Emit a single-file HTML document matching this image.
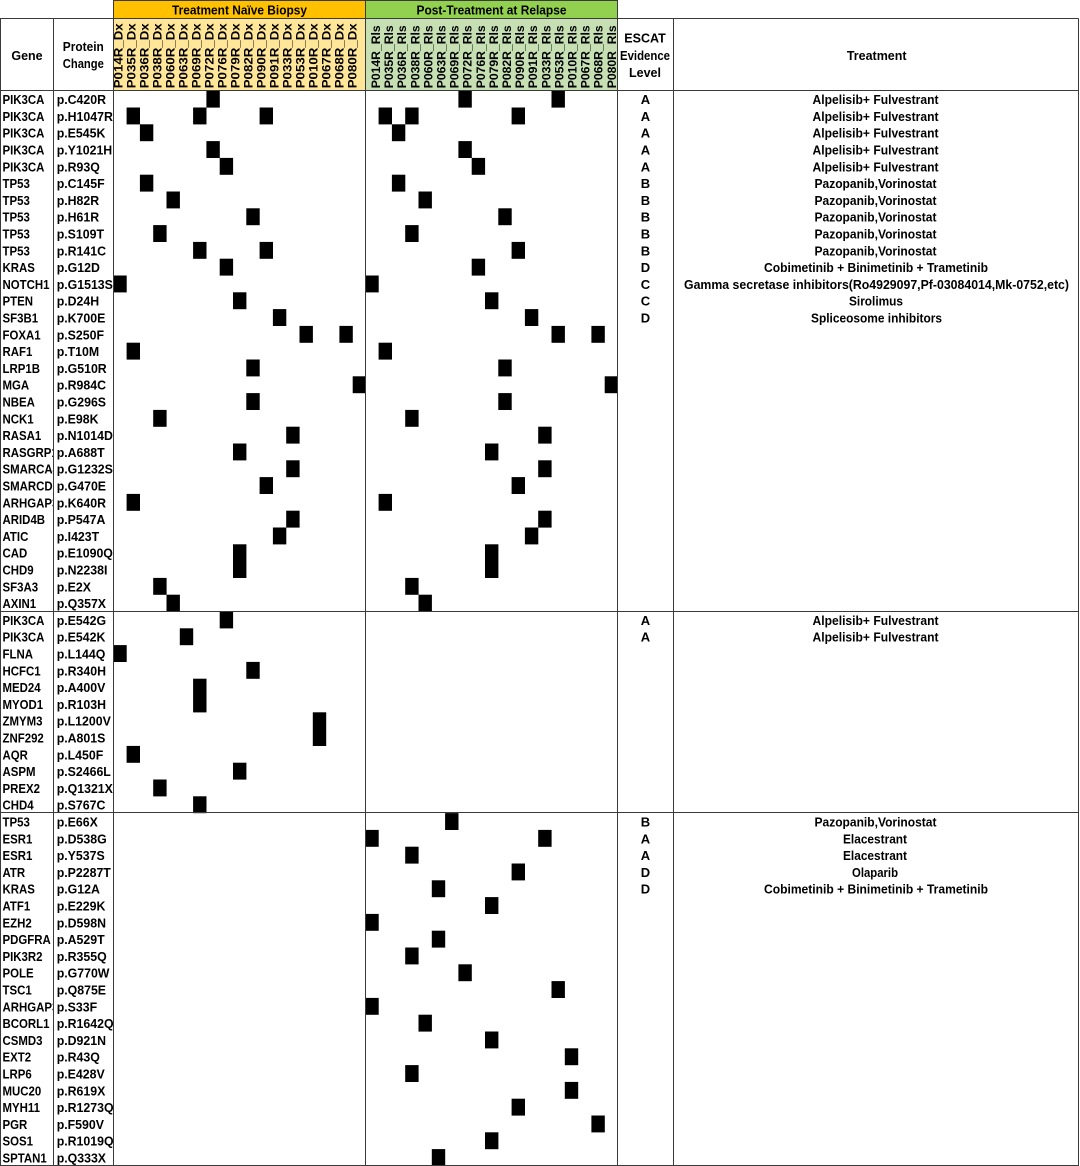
<!DOCTYPE html>
<html>
<head>
<meta charset="utf-8">
<style>
html,body{margin:0;padding:0;background:#fff;}
svg{display:block;}
text{font-family:"Liberation Sans",Arial,sans-serif;font-weight:bold;fill:#000;}
</style>
</head>
<body>
<svg width="1080" height="1166" viewBox="0 0 1080 1166" xmlns="http://www.w3.org/2000/svg">
<defs>
<clipPath id="cg"><rect x="0" y="90" width="53" height="1076"/></clipPath>
<clipPath id="cp"><rect x="54" y="90" width="59" height="1076"/></clipPath>
</defs>
<rect x="0" y="0" width="1080" height="1166" fill="#fff"/>
<!-- top bands -->
<rect x="113.5" y="0.5" width="252" height="18" fill="#FFC000"/>
<rect x="365.5" y="0.5" width="252" height="18" fill="#92D050"/>
<rect x="113.5" y="18.5" width="252" height="72" fill="#FFE699"/>
<rect x="365.5" y="18.5" width="252" height="72" fill="#C6E0B4"/>
<text x="239.5" y="14.5" font-size="12.5" text-anchor="middle" textLength="135" lengthAdjust="spacingAndGlyphs">Treatment Naïve Biopsy</text>
<text x="491.5" y="14.5" font-size="12.5" text-anchor="middle" textLength="150" lengthAdjust="spacingAndGlyphs">Post-Treatment at Relapse</text>

<!-- header labels -->
<text x="27" y="60" font-size="12.5" text-anchor="middle">Gene</text>
<text x="83.3" y="51" font-size="12.5" text-anchor="middle" textLength="41" lengthAdjust="spacingAndGlyphs">Protein</text>
<text x="83.3" y="68" font-size="12.5" text-anchor="middle" textLength="41" lengthAdjust="spacingAndGlyphs">Change</text>
<text x="645" y="42.7" font-size="12.5" text-anchor="middle">ESCAT</text>
<text x="645" y="60" font-size="12.5" text-anchor="middle" textLength="50" lengthAdjust="spacingAndGlyphs">Evidence</text>
<text x="645" y="77" font-size="12.5" text-anchor="middle">Level</text>
<text x="876.7" y="60" font-size="12.5" text-anchor="middle">Treatment</text>

<!-- rotated sample labels -->
<g font-size="11.5">
<text transform="translate(122.7,88.3) rotate(-90)" textLength="65" lengthAdjust="spacingAndGlyphs">P014R_Dx</text>
<text transform="translate(135.7,88.3) rotate(-90)" textLength="65" lengthAdjust="spacingAndGlyphs">P035R_Dx</text>
<text transform="translate(148.7,88.3) rotate(-90)" textLength="65" lengthAdjust="spacingAndGlyphs">P036R_Dx</text>
<text transform="translate(161.7,88.3) rotate(-90)" textLength="65" lengthAdjust="spacingAndGlyphs">P038R_Dx</text>
<text transform="translate(174.7,88.3) rotate(-90)" textLength="65" lengthAdjust="spacingAndGlyphs">P060R_Dx</text>
<text transform="translate(187.7,88.3) rotate(-90)" textLength="65" lengthAdjust="spacingAndGlyphs">P063R_Dx</text>
<text transform="translate(200.7,88.3) rotate(-90)" textLength="65" lengthAdjust="spacingAndGlyphs">P069R_Dx</text>
<text transform="translate(213.7,88.3) rotate(-90)" textLength="65" lengthAdjust="spacingAndGlyphs">P072R_Dx</text>
<text transform="translate(226.7,88.3) rotate(-90)" textLength="65" lengthAdjust="spacingAndGlyphs">P076R_Dx</text>
<text transform="translate(239.7,88.3) rotate(-90)" textLength="65" lengthAdjust="spacingAndGlyphs">P079R_Dx</text>
<text transform="translate(252.7,88.3) rotate(-90)" textLength="65" lengthAdjust="spacingAndGlyphs">P082R_Dx</text>
<text transform="translate(265.7,88.3) rotate(-90)" textLength="65" lengthAdjust="spacingAndGlyphs">P090R_Dx</text>
<text transform="translate(278.7,88.3) rotate(-90)" textLength="65" lengthAdjust="spacingAndGlyphs">P091R_Dx</text>
<text transform="translate(291.7,88.3) rotate(-90)" textLength="65" lengthAdjust="spacingAndGlyphs">P033R_Dx</text>
<text transform="translate(304.7,88.3) rotate(-90)" textLength="65" lengthAdjust="spacingAndGlyphs">P053R_Dx</text>
<text transform="translate(317.7,88.3) rotate(-90)" textLength="65" lengthAdjust="spacingAndGlyphs">P010R_Dx</text>
<text transform="translate(330.7,88.3) rotate(-90)" textLength="65" lengthAdjust="spacingAndGlyphs">P067R_Dx</text>
<text transform="translate(343.7,88.3) rotate(-90)" textLength="65" lengthAdjust="spacingAndGlyphs">P068R_Dx</text>
<text transform="translate(356.7,88.3) rotate(-90)" textLength="65" lengthAdjust="spacingAndGlyphs">P080R_Dx</text>

<text transform="translate(380,88.3) rotate(-90)" textLength="63" lengthAdjust="spacingAndGlyphs">P014R_Rls</text>
<text transform="translate(393.1,88.3) rotate(-90)" textLength="63" lengthAdjust="spacingAndGlyphs">P035R_Rls</text>
<text transform="translate(406.2,88.3) rotate(-90)" textLength="63" lengthAdjust="spacingAndGlyphs">P036R_Rls</text>
<text transform="translate(419.3,88.3) rotate(-90)" textLength="63" lengthAdjust="spacingAndGlyphs">P038R_Rls</text>
<text transform="translate(432.4,88.3) rotate(-90)" textLength="63" lengthAdjust="spacingAndGlyphs">P060R_Rls</text>
<text transform="translate(445.5,88.3) rotate(-90)" textLength="63" lengthAdjust="spacingAndGlyphs">P063R_Rls</text>
<text transform="translate(458.6,88.3) rotate(-90)" textLength="63" lengthAdjust="spacingAndGlyphs">P069R_Rls</text>
<text transform="translate(471.7,88.3) rotate(-90)" textLength="63" lengthAdjust="spacingAndGlyphs">P072R_Rls</text>
<text transform="translate(484.8,88.3) rotate(-90)" textLength="63" lengthAdjust="spacingAndGlyphs">P076R_Rls</text>
<text transform="translate(497.9,88.3) rotate(-90)" textLength="63" lengthAdjust="spacingAndGlyphs">P079R_Rls</text>
<text transform="translate(511,88.3) rotate(-90)" textLength="63" lengthAdjust="spacingAndGlyphs">P082R_Rls</text>
<text transform="translate(524.1,88.3) rotate(-90)" textLength="63" lengthAdjust="spacingAndGlyphs">P090R_Rls</text>
<text transform="translate(537.2,88.3) rotate(-90)" textLength="63" lengthAdjust="spacingAndGlyphs">P091R_Rls</text>
<text transform="translate(550.3,88.3) rotate(-90)" textLength="63" lengthAdjust="spacingAndGlyphs">P033R_Rls</text>
<text transform="translate(563.4,88.3) rotate(-90)" textLength="63" lengthAdjust="spacingAndGlyphs">P053R_Rls</text>
<text transform="translate(576.5,88.3) rotate(-90)" textLength="63" lengthAdjust="spacingAndGlyphs">P010R_Rls</text>
<text transform="translate(589.6,88.3) rotate(-90)" textLength="63" lengthAdjust="spacingAndGlyphs">P067R_Rls</text>
<text transform="translate(602.7,88.3) rotate(-90)" textLength="63" lengthAdjust="spacingAndGlyphs">P068R_Rls</text>
<text transform="translate(615.8,88.3) rotate(-90)" textLength="63" lengthAdjust="spacingAndGlyphs">P080R_Rls</text>
</g>

<!-- squares -->
<g fill="#000">
<rect x="206.4" y="90.7" width="13.4" height="16.9"/>
<rect x="126.6" y="107.5" width="13.4" height="16.9"/>
<rect x="193.1" y="107.5" width="13.4" height="16.9"/>
<rect x="259.6" y="107.5" width="13.4" height="16.9"/>
<rect x="139.9" y="124.3" width="13.4" height="16.9"/>
<rect x="206.4" y="141.1" width="13.4" height="16.9"/>
<rect x="219.7" y="157.9" width="13.4" height="16.9"/>
<rect x="139.9" y="174.7" width="13.4" height="16.9"/>
<rect x="166.5" y="191.5" width="13.4" height="16.9"/>
<rect x="246.3" y="208.3" width="13.4" height="16.9"/>
<rect x="153.2" y="225.1" width="13.4" height="16.9"/>
<rect x="193.1" y="241.9" width="13.4" height="16.9"/>
<rect x="259.6" y="241.9" width="13.4" height="16.9"/>
<rect x="219.7" y="258.7" width="13.4" height="16.9"/>
<rect x="113.3" y="275.5" width="13.4" height="16.9"/>
<rect x="233.0" y="292.3" width="13.4" height="16.9"/>
<rect x="272.9" y="309.1" width="13.4" height="16.9"/>
<rect x="299.5" y="325.9" width="13.4" height="16.9"/>
<rect x="339.4" y="325.9" width="13.4" height="16.9"/>
<rect x="126.6" y="342.7" width="13.4" height="16.9"/>
<rect x="246.3" y="359.5" width="13.4" height="16.9"/>
<rect x="352.7" y="376.3" width="13.0" height="16.9"/>
<rect x="246.3" y="393.1" width="13.4" height="16.9"/>
<rect x="153.2" y="409.9" width="13.4" height="16.9"/>
<rect x="286.2" y="426.7" width="13.4" height="16.9"/>
<rect x="233.0" y="443.5" width="13.4" height="16.9"/>
<rect x="286.2" y="460.3" width="13.4" height="16.9"/>
<rect x="259.6" y="477.1" width="13.4" height="16.9"/>
<rect x="126.6" y="493.9" width="13.4" height="16.9"/>
<rect x="286.2" y="510.7" width="13.4" height="16.9"/>
<rect x="272.9" y="527.5" width="13.4" height="16.9"/>
<rect x="233.0" y="544.3" width="13.4" height="33.7"/>
<rect x="153.2" y="577.9" width="13.4" height="16.9"/>
<rect x="166.5" y="594.7" width="13.4" height="16.9"/>
<rect x="219.7" y="611.5" width="13.4" height="16.9"/>
<rect x="179.8" y="628.3" width="13.4" height="16.9"/>
<rect x="113.3" y="645.1" width="13.4" height="16.9"/>
<rect x="246.3" y="661.9" width="13.4" height="16.9"/>
<rect x="193.1" y="678.7" width="13.4" height="33.7"/>
<rect x="312.8" y="712.3" width="13.4" height="33.7"/>
<rect x="126.6" y="745.9" width="13.4" height="16.9"/>
<rect x="233.0" y="762.7" width="13.4" height="16.9"/>
<rect x="153.2" y="779.5" width="13.4" height="16.9"/>
<rect x="193.1" y="796.3" width="13.4" height="16.9"/>

<rect x="458.4" y="90.7" width="13.4" height="16.9"/>
<rect x="551.5" y="90.7" width="13.4" height="16.9"/>
<rect x="378.6" y="107.5" width="13.4" height="16.9"/>
<rect x="405.2" y="107.5" width="13.4" height="16.9"/>
<rect x="511.6" y="107.5" width="13.4" height="16.9"/>
<rect x="391.9" y="124.3" width="13.4" height="16.9"/>
<rect x="458.4" y="141.1" width="13.4" height="16.9"/>
<rect x="471.7" y="157.9" width="13.4" height="16.9"/>
<rect x="391.9" y="174.7" width="13.4" height="16.9"/>
<rect x="418.5" y="191.5" width="13.4" height="16.9"/>
<rect x="498.3" y="208.3" width="13.4" height="16.9"/>
<rect x="405.2" y="225.1" width="13.4" height="16.9"/>
<rect x="511.6" y="241.9" width="13.4" height="16.9"/>
<rect x="471.7" y="258.7" width="13.4" height="16.9"/>
<rect x="365.3" y="275.5" width="13.4" height="16.9"/>
<rect x="485.0" y="292.3" width="13.4" height="16.9"/>
<rect x="524.9" y="309.1" width="13.4" height="16.9"/>
<rect x="551.5" y="325.9" width="13.4" height="16.9"/>
<rect x="591.4" y="325.9" width="13.4" height="16.9"/>
<rect x="378.6" y="342.7" width="13.4" height="16.9"/>
<rect x="498.3" y="359.5" width="13.4" height="16.9"/>
<rect x="604.7" y="376.3" width="13.0" height="16.9"/>
<rect x="498.3" y="393.1" width="13.4" height="16.9"/>
<rect x="405.2" y="409.9" width="13.4" height="16.9"/>
<rect x="538.2" y="426.7" width="13.4" height="16.9"/>
<rect x="485.0" y="443.5" width="13.4" height="16.9"/>
<rect x="538.2" y="460.3" width="13.4" height="16.9"/>
<rect x="511.6" y="477.1" width="13.4" height="16.9"/>
<rect x="378.6" y="493.9" width="13.4" height="16.9"/>
<rect x="538.2" y="510.7" width="13.4" height="16.9"/>
<rect x="524.9" y="527.5" width="13.4" height="16.9"/>
<rect x="485.0" y="544.3" width="13.4" height="33.7"/>
<rect x="405.2" y="577.9" width="13.4" height="16.9"/>
<rect x="418.5" y="594.7" width="13.4" height="16.9"/>
<rect x="445.1" y="813.1" width="13.4" height="16.9"/>
<rect x="365.3" y="829.9" width="13.4" height="16.9"/>
<rect x="538.2" y="829.9" width="13.4" height="16.9"/>
<rect x="405.2" y="846.7" width="13.4" height="16.9"/>
<rect x="511.6" y="863.5" width="13.4" height="16.9"/>
<rect x="431.8" y="880.3" width="13.4" height="16.9"/>
<rect x="485.0" y="897.1" width="13.4" height="16.9"/>
<rect x="365.3" y="913.9" width="13.4" height="16.9"/>
<rect x="431.8" y="930.7" width="13.4" height="16.9"/>
<rect x="405.2" y="947.5" width="13.4" height="16.9"/>
<rect x="458.4" y="964.3" width="13.4" height="16.9"/>
<rect x="551.5" y="981.1" width="13.4" height="16.9"/>
<rect x="365.3" y="997.9" width="13.4" height="16.9"/>
<rect x="418.5" y="1014.7" width="13.4" height="16.9"/>
<rect x="485.0" y="1031.5" width="13.4" height="16.9"/>
<rect x="564.8" y="1048.3" width="13.4" height="16.9"/>
<rect x="405.2" y="1065.1" width="13.4" height="16.9"/>
<rect x="564.8" y="1081.9" width="13.4" height="16.9"/>
<rect x="511.6" y="1098.7" width="13.4" height="16.9"/>
<rect x="591.4" y="1115.5" width="13.4" height="16.9"/>
<rect x="485.0" y="1132.3" width="13.4" height="16.9"/>
<rect x="431.8" y="1149.1" width="13.4" height="16.9"/>
</g>

<!-- gene names -->
<g clip-path="url(#cg)">
<g transform="translate(2.5,0.6) scale(0.88,1)" font-size="13">
<text x="0" y="103.5">PIK3CA</text>
<text x="0" y="120.3">PIK3CA</text>
<text x="0" y="137.1">PIK3CA</text>
<text x="0" y="153.9">PIK3CA</text>
<text x="0" y="170.7">PIK3CA</text>
<text x="0" y="187.5">TP53</text>
<text x="0" y="204.3">TP53</text>
<text x="0" y="221.1">TP53</text>
<text x="0" y="237.9">TP53</text>
<text x="0" y="254.7">TP53</text>
<text x="0" y="271.5">KRAS</text>
<text x="0" y="288.3">NOTCH1</text>
<text x="0" y="305.1">PTEN</text>
<text x="0" y="321.9">SF3B1</text>
<text x="0" y="338.7">FOXA1</text>
<text x="0" y="355.5">RAF1</text>
<text x="0" y="372.3">LRP1B</text>
<text x="0" y="389.1">MGA</text>
<text x="0" y="405.9">NBEA</text>
<text x="0" y="422.7">NCK1</text>
<text x="0" y="439.5">RASA1</text>
<text x="0" y="456.3">RASGRP1</text>
<text x="0" y="473.1">SMARCA4</text>
<text x="0" y="489.9">SMARCD1</text>
<text x="0" y="506.7">ARHGAP35</text>
<text x="0" y="523.5">ARID4B</text>
<text x="0" y="540.3">ATIC</text>
<text x="0" y="557.1">CAD</text>
<text x="0" y="573.9">CHD9</text>
<text x="0" y="590.7">SF3A3</text>
<text x="0" y="607.5">AXIN1</text>
<text x="0" y="624.3">PIK3CA</text>
<text x="0" y="641.1">PIK3CA</text>
<text x="0" y="657.9">FLNA</text>
<text x="0" y="674.7">HCFC1</text>
<text x="0" y="691.5">MED24</text>
<text x="0" y="708.3">MYOD1</text>
<text x="0" y="725.1">ZMYM3</text>
<text x="0" y="741.9">ZNF292</text>
<text x="0" y="758.7">AQR</text>
<text x="0" y="775.5">ASPM</text>
<text x="0" y="792.3">PREX2</text>
<text x="0" y="809.1">CHD4</text>
<text x="0" y="825.9">TP53</text>
<text x="0" y="842.7">ESR1</text>
<text x="0" y="859.5">ESR1</text>
<text x="0" y="876.3">ATR</text>
<text x="0" y="893.1">KRAS</text>
<text x="0" y="909.9">ATF1</text>
<text x="0" y="926.7">EZH2</text>
<text x="0" y="943.5">PDGFRA</text>
<text x="0" y="960.3">PIK3R2</text>
<text x="0" y="977.1">POLE</text>
<text x="0" y="993.9">TSC1</text>
<text x="0" y="1010.7">ARHGAP35</text>
<text x="0" y="1027.5">BCORL1</text>
<text x="0" y="1044.3">CSMD3</text>
<text x="0" y="1061.1">EXT2</text>
<text x="0" y="1077.9">LRP6</text>
<text x="0" y="1094.7">MUC20</text>
<text x="0" y="1111.5">MYH11</text>
<text x="0" y="1128.3">PGR</text>
<text x="0" y="1145.1">SOS1</text>
<text x="0" y="1161.9">SPTAN1</text>
</g>
</g>

<!-- protein changes -->
<g clip-path="url(#cp)">
<g transform="translate(56.7,0.6) scale(0.95,1)" font-size="13">
<text x="0" y="103.5">p.C420R</text>
<text x="0" y="120.3">p.H1047R</text>
<text x="0" y="137.1">p.E545K</text>
<text x="0" y="153.9">p.Y1021H</text>
<text x="0" y="170.7">p.R93Q</text>
<text x="0" y="187.5">p.C145F</text>
<text x="0" y="204.3">p.H82R</text>
<text x="0" y="221.1">p.H61R</text>
<text x="0" y="237.9">p.S109T</text>
<text x="0" y="254.7">p.R141C</text>
<text x="0" y="271.5">p.G12D</text>
<text x="0" y="288.3">p.G1513S</text>
<text x="0" y="305.1">p.D24H</text>
<text x="0" y="321.9">p.K700E</text>
<text x="0" y="338.7">p.S250F</text>
<text x="0" y="355.5">p.T10M</text>
<text x="0" y="372.3">p.G510R</text>
<text x="0" y="389.1">p.R984C</text>
<text x="0" y="405.9">p.G296S</text>
<text x="0" y="422.7">p.E98K</text>
<text x="0" y="439.5">p.N1014D</text>
<text x="0" y="456.3">p.A688T</text>
<text x="0" y="473.1">p.G1232S</text>
<text x="0" y="489.9">p.G470E</text>
<text x="0" y="506.7">p.K640R</text>
<text x="0" y="523.5">p.P547A</text>
<text x="0" y="540.3">p.I423T</text>
<text x="0" y="557.1">p.E1090Q</text>
<text x="0" y="573.9">p.N2238I</text>
<text x="0" y="590.7">p.E2X</text>
<text x="0" y="607.5">p.Q357X</text>
<text x="0" y="624.3">p.E542G</text>
<text x="0" y="641.1">p.E542K</text>
<text x="0" y="657.9">p.L144Q</text>
<text x="0" y="674.7">p.R340H</text>
<text x="0" y="691.5">p.A400V</text>
<text x="0" y="708.3">p.R103H</text>
<text x="0" y="725.1">p.L1200V</text>
<text x="0" y="741.9">p.A801S</text>
<text x="0" y="758.7">p.L450F</text>
<text x="0" y="775.5">p.S2466L</text>
<text x="0" y="792.3">p.Q1321X</text>
<text x="0" y="809.1">p.S767C</text>
<text x="0" y="825.9">p.E66X</text>
<text x="0" y="842.7">p.D538G</text>
<text x="0" y="859.5">p.Y537S</text>
<text x="0" y="876.3">p.P2287T</text>
<text x="0" y="893.1">p.G12A</text>
<text x="0" y="909.9">p.E229K</text>
<text x="0" y="926.7">p.D598N</text>
<text x="0" y="943.5">p.A529T</text>
<text x="0" y="960.3">p.R355Q</text>
<text x="0" y="977.1">p.G770W</text>
<text x="0" y="993.9">p.Q875E</text>
<text x="0" y="1010.7">p.S33F</text>
<text x="0" y="1027.5">p.R1642Q</text>
<text x="0" y="1044.3">p.D921N</text>
<text x="0" y="1061.1">p.R43Q</text>
<text x="0" y="1077.9">p.E428V</text>
<text x="0" y="1094.7">p.R619X</text>
<text x="0" y="1111.5">p.R1273Q</text>
<text x="0" y="1128.3">p.F590V</text>
<text x="0" y="1145.1">p.R1019Q</text>
<text x="0" y="1161.9">p.Q333X</text>
</g>
</g>

<!-- ESCAT levels -->
<g font-size="13" text-anchor="middle" transform="translate(0,0.6)">
<text x="645.5" y="103.5">A</text>
<text x="645.5" y="120.3">A</text>
<text x="645.5" y="137.1">A</text>
<text x="645.5" y="153.9">A</text>
<text x="645.5" y="170.7">A</text>
<text x="645.5" y="187.5">B</text>
<text x="645.5" y="204.3">B</text>
<text x="645.5" y="221.1">B</text>
<text x="645.5" y="237.9">B</text>
<text x="645.5" y="254.7">B</text>
<text x="645.5" y="271.5">D</text>
<text x="645.5" y="288.3">C</text>
<text x="645.5" y="305.1">C</text>
<text x="645.5" y="321.9">D</text>
<text x="645.5" y="624.3">A</text>
<text x="645.5" y="641.1">A</text>
<text x="645.5" y="825.9">B</text>
<text x="645.5" y="842.7">A</text>
<text x="645.5" y="859.5">A</text>
<text x="645.5" y="876.3">D</text>
<text x="645.5" y="893.1">D</text>
</g>

<!-- treatments -->
<g font-size="13" text-anchor="middle" transform="translate(0,0.6)">
<text x="875.5" y="103.5" textLength="126" lengthAdjust="spacingAndGlyphs">Alpelisib+ Fulvestrant</text>
<text x="875.5" y="120.3" textLength="126" lengthAdjust="spacingAndGlyphs">Alpelisib+ Fulvestrant</text>
<text x="875.5" y="137.1" textLength="126" lengthAdjust="spacingAndGlyphs">Alpelisib+ Fulvestrant</text>
<text x="875.5" y="153.9" textLength="126" lengthAdjust="spacingAndGlyphs">Alpelisib+ Fulvestrant</text>
<text x="875.5" y="170.7" textLength="126" lengthAdjust="spacingAndGlyphs">Alpelisib+ Fulvestrant</text>
<text x="875.5" y="187.5" textLength="122" lengthAdjust="spacingAndGlyphs">Pazopanib,Vorinostat</text>
<text x="875.5" y="204.3" textLength="122" lengthAdjust="spacingAndGlyphs">Pazopanib,Vorinostat</text>
<text x="875.5" y="221.1" textLength="122" lengthAdjust="spacingAndGlyphs">Pazopanib,Vorinostat</text>
<text x="875.5" y="237.9" textLength="122" lengthAdjust="spacingAndGlyphs">Pazopanib,Vorinostat</text>
<text x="875.5" y="254.7" textLength="122" lengthAdjust="spacingAndGlyphs">Pazopanib,Vorinostat</text>
<text x="876" y="271.5" textLength="224" lengthAdjust="spacingAndGlyphs">Cobimetinib + Binimetinib + Trametinib</text>
<text x="876.5" y="288.3" textLength="385" lengthAdjust="spacingAndGlyphs">Gamma secretase inhibitors(Ro4929097,Pf-03084014,Mk-0752,etc)</text>
<text x="876" y="305.1" textLength="54" lengthAdjust="spacingAndGlyphs">Sirolimus</text>
<text x="876.5" y="321.9" textLength="131" lengthAdjust="spacingAndGlyphs">Spliceosome inhibitors</text>
<text x="875.5" y="624.3" textLength="126" lengthAdjust="spacingAndGlyphs">Alpelisib+ Fulvestrant</text>
<text x="875.5" y="641.1" textLength="126" lengthAdjust="spacingAndGlyphs">Alpelisib+ Fulvestrant</text>
<text x="875.5" y="825.9" textLength="122" lengthAdjust="spacingAndGlyphs">Pazopanib,Vorinostat</text>
<text x="875" y="842.7" textLength="64" lengthAdjust="spacingAndGlyphs">Elacestrant</text>
<text x="875" y="859.5" textLength="64" lengthAdjust="spacingAndGlyphs">Elacestrant</text>
<text x="875" y="876.3" textLength="46" lengthAdjust="spacingAndGlyphs">Olaparib</text>
<text x="876" y="893.1" textLength="224" lengthAdjust="spacingAndGlyphs">Cobimetinib + Binimetinib + Trametinib</text>
</g>

<!-- grid lines -->
<g stroke="#3a3a3a" stroke-width="1" fill="none">
<line x1="113.5" y1="0.5" x2="617.5" y2="0.5"/>
<line x1="0" y1="18.5" x2="1078.5" y2="18.5"/>
<line x1="0" y1="90.5" x2="1078.5" y2="90.5"/>
<line x1="0" y1="611.5" x2="1078.5" y2="611.5"/>
<line x1="0" y1="812.5" x2="1078.5" y2="812.5"/>
<line x1="0" y1="1165.5" x2="1078.5" y2="1165.5"/>
<line x1="0.5" y1="18.5" x2="0.5" y2="1166"/>
<line x1="53.5" y1="18.5" x2="53.5" y2="1166"/>
<line x1="113.5" y1="0" x2="113.5" y2="1166"/>
<line x1="365.5" y1="0" x2="365.5" y2="1166"/>
<line x1="617.5" y1="0" x2="617.5" y2="1166"/>
<line x1="673.5" y1="18.5" x2="673.5" y2="1166"/>
<line x1="1078.5" y1="18.5" x2="1078.5" y2="1166"/>
</g>
</svg>
</body>
</html>
